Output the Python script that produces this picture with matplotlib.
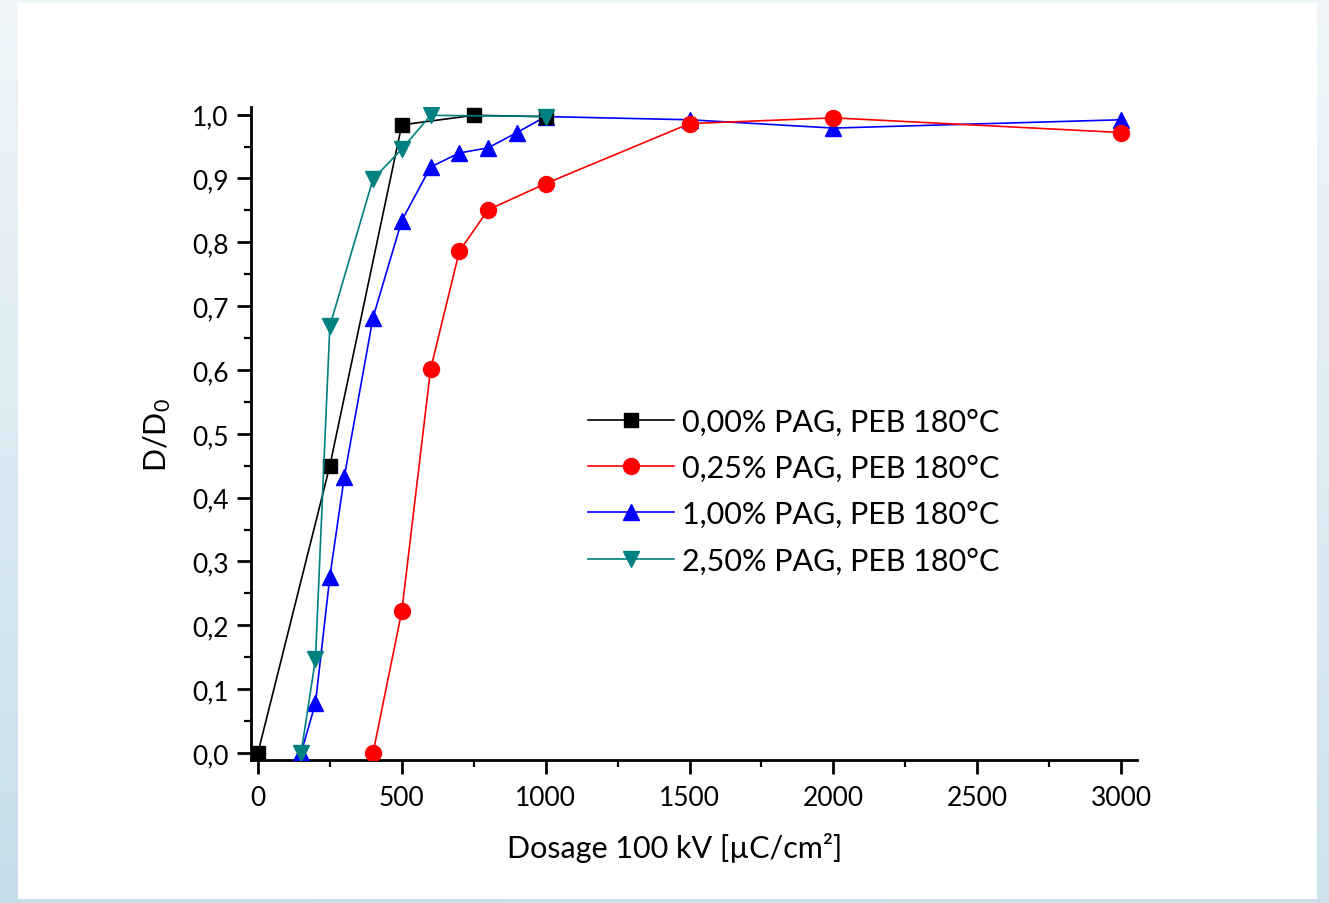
import matplotlib
matplotlib.use("Agg")
import matplotlib.pyplot as plt
import numpy as np
from matplotlib.patches import Rectangle
from matplotlib.ticker import FixedLocator, FixedFormatter, MultipleLocator

plt.rcParams['font.family'] = ['Lato', 'DejaVu Sans']
plt.rcParams['mathtext.default'] = 'regular'

# ---- data ----
x_000 = [0, 250, 500, 750, 1000]
y_000 = [0.0, 0.45, 0.984, 0.999, 0.997]

x_025 = [400, 500, 600, 700, 800, 1000, 1500, 2000, 3000]
y_025 = [0.0, 0.222, 0.601, 0.786, 0.851, 0.892, 0.986, 0.995, 0.972]

x_100 = [150, 200, 250, 300, 400, 500, 600, 700, 800, 900, 1000, 1500, 2000, 3000]
y_100 = [0.0, 0.078, 0.276, 0.432, 0.682, 0.834, 0.918, 0.940, 0.948, 0.972, 0.997, 0.992, 0.979, 0.992]

x_250 = [150, 200, 250, 400, 500, 600, 1000]
y_250 = [0.0, 0.147, 0.669, 0.899, 0.946, 0.999, 0.997]

labels = ["0,00% PAG, PEB 180°C", "0,25% PAG, PEB 180°C",
          "1,00% PAG, PEB 180°C", "2,50% PAG, PEB 180°C"]

x_ticks = [0, 500, 1000, 1500, 2000, 2500, 3000]
x_ticklabels = ["0", "500", "1000", "1500", "2000", "2500", "3000"]
y_ticks = [0.0, 0.1, 0.2, 0.3, 0.4, 0.5, 0.6, 0.7, 0.8, 0.9, 1.0]
y_ticklabels = ["0,0", "0,1", "0,2", "0,3", "0,4", "0,5", "0,6", "0,7", "0,8", "0,9", "1,0"]

# ---- figure ----
W, H = 1329, 904
fig = plt.figure(figsize=(W / 100, H / 100), dpi=100)

# background gradient + white panel
bg = fig.add_axes([0, 0, 1, 1], zorder=-10)
gy = np.linspace(0, 1, 200)[:, None]
gx = np.linspace(0, 1, 200)[None, :]
t = np.clip(0.75 * gy + 0.15 * (1 - gx) * gy, 0, 1)
c_top = np.array([0.94, 0.965, 0.98])
c_bot = np.array([0.76, 0.86, 0.91])
img = c_top[None, None, :] * (1 - t[..., None]) + c_bot[None, None, :] * t[..., None]
bg.imshow(img, extent=[0, 1, 0, 1], aspect='auto', origin='upper')
bg.add_patch(Rectangle((18 / W, 4 / H), (1317 - 18) / W, (900 - 4) / H,
                       facecolor='white', edgecolor='none'))
bg.set_xlim(0, 1)
bg.set_ylim(0, 1)
bg.axis('off')

ax = fig.add_axes([251 / W, 143 / H, (1137 - 251) / W, (796 - 143) / H])
ax.set_facecolor('none')

ax.plot(x_000, y_000, color='black', lw=1.2, marker='s', ms=10, label=labels[0], zorder=5)
ax.plot(x_025, y_025, color='#FF0000', lw=1.2, marker='o', ms=11.5, label=labels[1], zorder=4)
ax.plot(x_100, y_100, color='#0000FF', lw=1.2, marker='^', ms=12, label=labels[2], zorder=3)
ax.plot(x_250, y_250, color='#008080', lw=1.2, marker='v', ms=12, label=labels[3], zorder=6)

ax.set_xlim(-24, 3055)
ax.set_ylim(-0.011, 1.012)

ax.xaxis.set_major_locator(FixedLocator(x_ticks))
ax.xaxis.set_major_formatter(FixedFormatter(x_ticklabels))
ax.xaxis.set_minor_locator(MultipleLocator(250))
ax.yaxis.set_major_locator(FixedLocator(y_ticks))
ax.yaxis.set_major_formatter(FixedFormatter(y_ticklabels))
ax.yaxis.set_minor_locator(MultipleLocator(0.05))

for s in ['top', 'right']:
    ax.spines[s].set_visible(False)
for s in ['left', 'bottom']:
    ax.spines[s].set_linewidth(2.0)

ax.tick_params(axis='both', which='major', direction='out', length=10, width=2,
               labelsize=19, pad=6)
ax.tick_params(axis='x', which='major', pad=8)
ax.tick_params(axis='both', which='minor', direction='out', length=5, width=1.6)

ax.set_xlabel("Dosage 100 kV [µC/cm²]", fontsize=22)
ax.xaxis.set_label_coords((675 - 251) / (1137 - 251), -(848 - 761) / (761 - 108),
                          transform=ax.transAxes)
ax.xaxis.label.set_va('center')
ax.set_ylabel("D/D$_0$", fontsize=22, labelpad=14)

leg = ax.legend(loc='center left', bbox_to_anchor=(588 / W, 412 / H),
                bbox_transform=fig.transFigure, frameon=False, fontsize=22,
                handlelength=2.8, handletextpad=0.28, labelspacing=0.6,
                borderpad=0, borderaxespad=0)

fig.savefig("out.png", dpi=100)
